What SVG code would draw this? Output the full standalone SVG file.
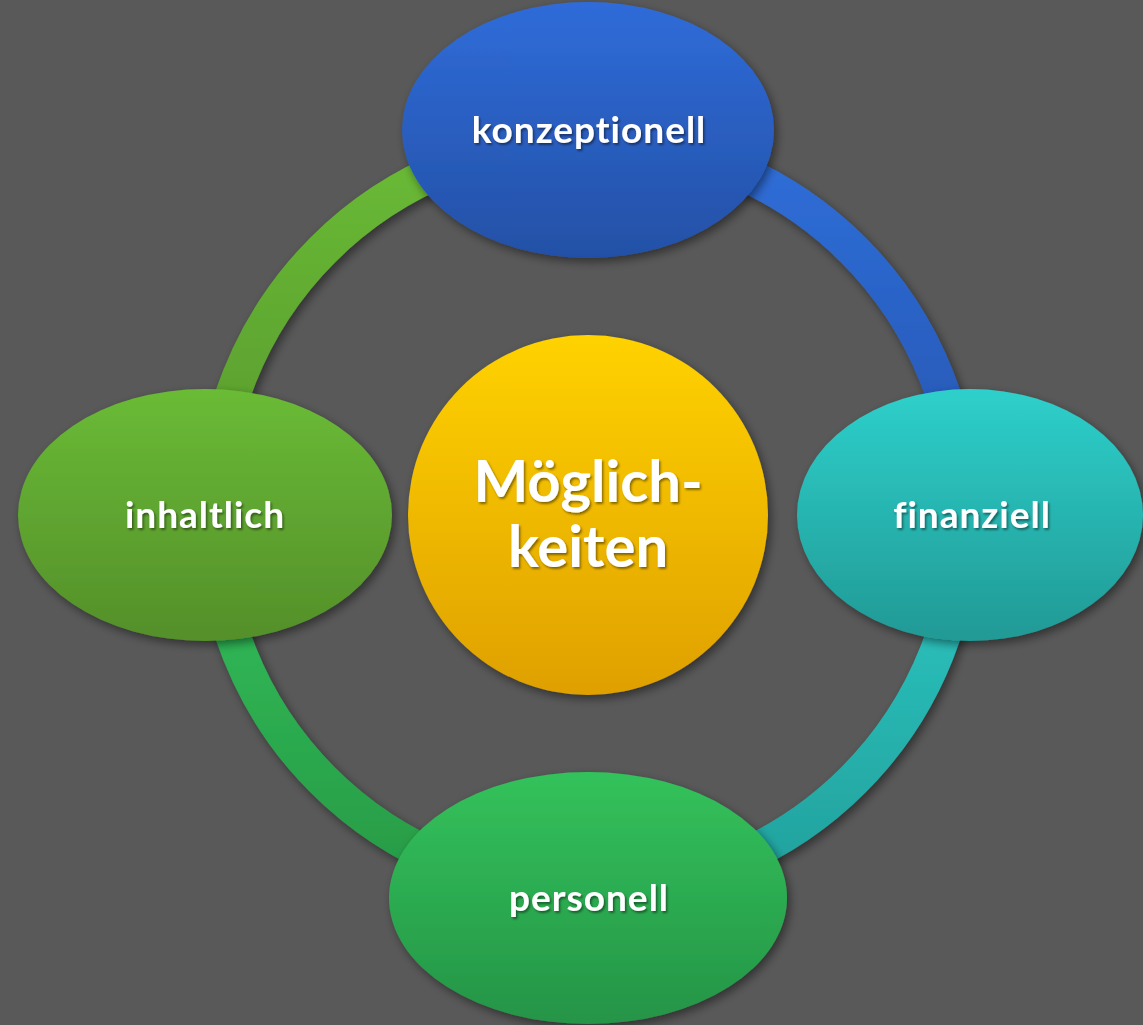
<svg xmlns="http://www.w3.org/2000/svg" width="1143" height="1025" viewBox="0 0 1143 1025">
<style>
.lbl{font-family:Lato,"Open Sans",sans-serif;font-weight:700;fill:#ffffff;text-anchor:middle;filter:url(#ts);font-variant-ligatures:none;font-feature-settings:"liga" 0}
.sm{letter-spacing:1px}
.arc{fill:none;stroke-width:35;filter:url(#sh)}
.node{filter:url(#sh)}
</style>
<defs>
<filter id="sh" x="-20%" y="-20%" width="140%" height="140%">
<feDropShadow dx="3" dy="4" stdDeviation="5" flood-color="#000" flood-opacity="0.45"/>
</filter>
<filter id="ts" x="-10%" y="-30%" width="120%" height="160%">
<feDropShadow dx="1.5" dy="2" stdDeviation="1" flood-color="#000" flood-opacity="0.45"/>
</filter>
<linearGradient id="gTL" gradientUnits="userSpaceOnUse" x1="0" y1="140" x2="0" y2="515"><stop offset="0" stop-color="#6abb36"/><stop offset="1" stop-color="#57982c"/></linearGradient>
<linearGradient id="gTR" gradientUnits="userSpaceOnUse" x1="0" y1="140" x2="0" y2="515"><stop offset="0" stop-color="#2f6fda"/><stop offset="1" stop-color="#2554ae"/></linearGradient>
<linearGradient id="gBR" gradientUnits="userSpaceOnUse" x1="0" y1="515" x2="0" y2="890"><stop offset="0" stop-color="#2dcac5"/><stop offset="1" stop-color="#22a09c"/></linearGradient>
<linearGradient id="gBL" gradientUnits="userSpaceOnUse" x1="0" y1="515" x2="0" y2="890"><stop offset="0" stop-color="#33c15a"/><stop offset="1" stop-color="#279a47"/></linearGradient>
<linearGradient id="nT" x1="0" y1="0" x2="0" y2="1"><stop offset="0" stop-color="#2f6cd9"/><stop offset="1" stop-color="#2450a6"/></linearGradient>
<linearGradient id="nL" x1="0" y1="0" x2="0" y2="1"><stop offset="0" stop-color="#6abb36"/><stop offset="1" stop-color="#548f2a"/></linearGradient>
<linearGradient id="nR" x1="0" y1="0" x2="0" y2="1"><stop offset="0" stop-color="#2ed0cb"/><stop offset="1" stop-color="#219995"/></linearGradient>
<linearGradient id="nB" x1="0" y1="0" x2="0" y2="1"><stop offset="0" stop-color="#33c25b"/><stop offset="1" stop-color="#259447"/></linearGradient>
<linearGradient id="nC" x1="0" y1="0" x2="0" y2="1"><stop offset="0" stop-color="#ffd200"/><stop offset="1" stop-color="#dfa000"/></linearGradient>
</defs>
<rect width="1143" height="1025" fill="#595959"/>
<g id="connectors">
<path class="arc" stroke="url(#gTL)" d="M213 515 A375 375 0 0 1 588 140"/>
<path class="arc" stroke="url(#gTR)" d="M588 140 A375 375 0 0 1 963 515"/>
<path class="arc" stroke="url(#gBR)" d="M963 515 A375 375 0 0 1 588 890"/>
<path class="arc" stroke="url(#gBL)" d="M588 890 A375 375 0 0 1 213 515"/>
</g>
<g id="center">
<circle class="node" cx="588" cy="515" r="180" fill="url(#nC)"/>
<text class="lbl" x="588" y="502" font-size="58">Möglich-</text>
<text class="lbl" x="588" y="567" font-size="58">keiten</text>
</g>
<g id="konzeptionell">
<ellipse class="node" cx="588" cy="130" rx="186" ry="128" fill="url(#nT)"/>
<text class="lbl sm" x="589" y="143" font-size="37">konzeptionell</text>
</g>
<g id="inhaltlich">
<ellipse class="node" cx="205" cy="515" rx="187" ry="126" fill="url(#nL)"/>
<text class="lbl sm" x="205" y="528" font-size="37">inhaltlich</text>
</g>
<g id="finanziell">
<ellipse class="node" cx="970" cy="515" rx="173" ry="126" fill="url(#nR)"/>
<text class="lbl sm" x="972" y="528" font-size="37">finanziell</text>
</g>
<g id="personell">
<ellipse class="node" cx="588" cy="898" rx="199" ry="126" fill="url(#nB)"/>
<text class="lbl sm" x="589" y="911" font-size="37">personell</text>
</g>
</svg>
